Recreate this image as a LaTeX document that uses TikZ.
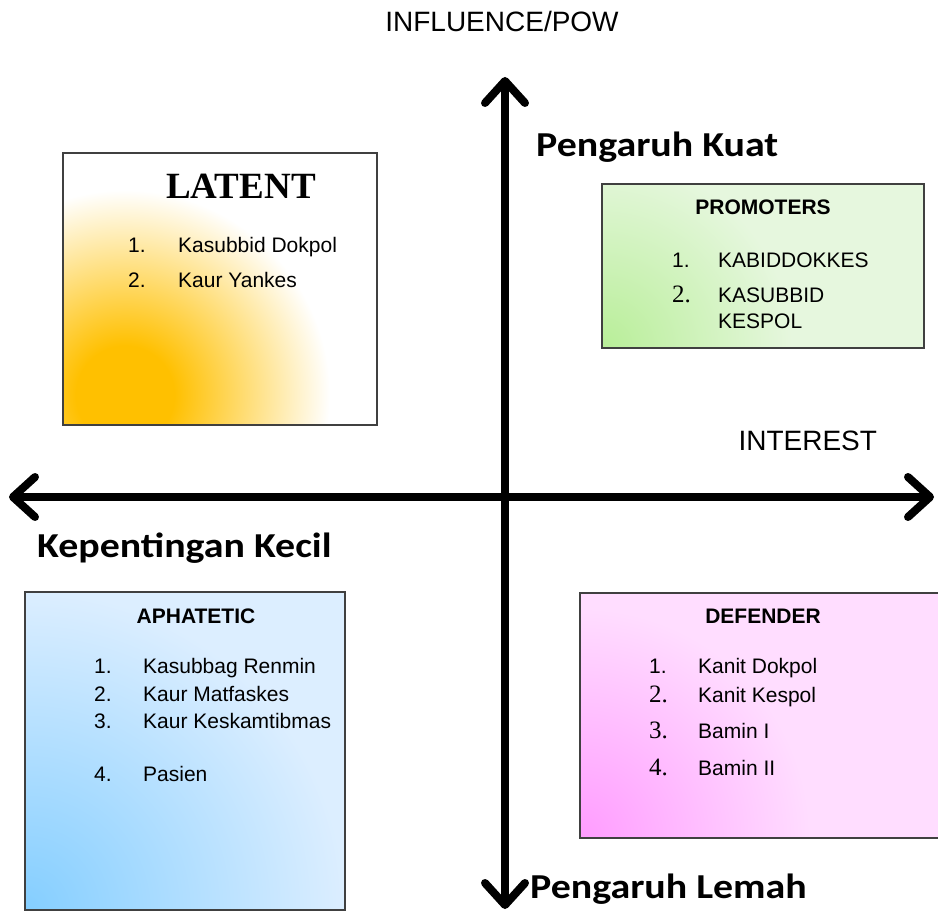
\documentclass[tikz,border=0pt]{standalone}
\usepackage{fontspec}
\setmainfont{Liberation Sans}
\newfontfamily\serifnum{Liberation Serif}
\newfontfamily\bigfont{Carlito}
\usetikzlibrary{arrows.meta}
\definecolor{yelglow}{HTML}{FFC000}
\definecolor{grbase}{HTML}{E6F7DE}
\definecolor{grglow}{HTML}{B8EE98}
\definecolor{blbase}{HTML}{DCEEFF}
\definecolor{blglow}{HTML}{84CEFF}
\definecolor{pkbase}{HTML}{FFDDFF}
\definecolor{pkglow}{HTML}{FF9CFF}
\definecolor{boxedge}{HTML}{404040}
\pgfdeclareradialshading{glowY}{\pgfpoint{0bp}{0bp}}{color(0bp)=(yelglow); color(6bp)=(yelglow); color(25bp)=(white); color(50bp)=(white)}
\pgfdeclareradialshading{glowG}{\pgfpoint{0bp}{0bp}}{color(0bp)=(grglow); color(25bp)=(grbase); color(50bp)=(grbase)}
\pgfdeclareradialshading{glowB}{\pgfpoint{0bp}{0bp}}{color(0bp)=(blglow); color(25bp)=(blbase); color(50bp)=(blbase)}
\pgfdeclareradialshading{glowP}{\pgfpoint{0bp}{0bp}}{color(0bp)=(pkglow); color(25bp)=(pkbase); color(50bp)=(pkbase)}
\tikzset{
  boxline/.style={draw=boxedge, line width=1.5pt},
  axis/.style={line width=8pt, line cap=round,
    {Straight Barb[length=22pt,width=40pt,line cap=round,line join=round]}-{Straight Barb[length=22pt,width=40pt,line cap=round,line join=round]}},
  axlabel/.style={font=\fontsize{28}{32}\selectfont, anchor=base},
  biglabel/.style={font=\bigfont\bfseries\fontsize{35}{40}\selectfont, anchor=base west, inner sep=0pt, xscale=1.14},
  boxtitle/.style={font=\bfseries\fontsize{21}{25}\selectfont, anchor=base, inner sep=0pt},
  itemnum/.style={font=\fontsize{21}{25}\selectfont, anchor=base west, inner sep=0pt},
  sernum/.style={font=\serifnum\fontsize{25}{29}\selectfont, anchor=base west, inner sep=0pt},
  itemtxt/.style={font=\fontsize{21}{25}\selectfont, anchor=base west, inner sep=0pt}
}
\begin{document}
\begin{tikzpicture}[x=1pt,y=-1pt]
\useasboundingbox (0,0) rectangle (938,917);
\fill[white] (0,0) rectangle (938,917);

% LATENT box
\begin{scope}
  \clip (63,153) rectangle (377,425);
  \fill[white] (63,153) rectangle (377,425);
  \shade[shading=glowY] (125,395) circle (205pt);
\end{scope}
\draw[boxline] (63,153) rectangle (377,425);

% PROMOTERS box
\begin{scope}
  \clip (602,184) rectangle (924,348);
  \fill[grbase] (602,184) rectangle (924,348);
  \shade[shading=glowG] (602,348) circle (190pt);
\end{scope}
\draw[boxline] (602,184) rectangle (924,348);

% APHATETIC box
\begin{scope}
  \clip (25,592) rectangle (345,910);
  \fill[blbase] (25,592) rectangle (345,910);
  \shade[shading=glowB] (25,910) circle (320pt);
\end{scope}
\draw[boxline] (25,592) rectangle (345,910);

% DEFENDER box
\begin{scope}
  \clip (580,593) rectangle (945,838);
  \fill[pkbase] (580,593) rectangle (945,838);
  \shade[shading=glowP] (580,838) circle (230pt);
\end{scope}
\draw[boxline] (580,593) rectangle (945,838);

% axes
\coordinate (top) at (505,77);
\coordinate (bot) at (505,909);
\coordinate (lft) at (9,497);
\coordinate (rgt) at (934,497);
\draw[axis] (bot) -- (top);
\draw[axis] (lft) -- (rgt);

% axis labels
\node[axlabel] (infl) at (502,32) {INFLUENCE/POW};
\node[axlabel, anchor=base west] (intr) at (735,451) {INTEREST};
\node[biglabel] (kuat) at (536,157) {Pengaruh Kuat};
\node[biglabel] (kecil) at (37,557) {Kepentingan Kecil};
\node[biglabel] (lemah) at (530,898) {Pengaruh Lemah};

% LATENT contents
\node[font=\serifnum\bfseries\fontsize{37}{42}\selectfont, anchor=base, inner sep=0pt] (latt) at (241,199) {LATENT};
\node[itemnum] (l1n) at (128,253) {1.};
\node[itemtxt] (l1t) at (178,253) {Kasubbid Dokpol};
\node[itemnum] (l2n) at (128,288) {2.};
\node[itemtxt] (l2t) at (178,288) {Kaur Yankes};

% PROMOTERS contents
\node[boxtitle] (prt) at (763,215) {PROMOTERS};
\node[itemnum] (p1n) at (672,268) {1.};
\node[itemtxt] (p1t) at (718,268) {KABIDDOKKES};
\node[sernum] (p2n) at (672,303) {2.};
\node[itemtxt] (p2t) at (718,303) {KASUBBID};
\node[itemtxt] (p2u) at (718,329) {KESPOL};

% APHATETIC contents
\node[boxtitle] (apt) at (196,623) {APHATETIC};
\node[itemnum] (a1n) at (94,673) {1.};
\node[itemtxt] (a1t) at (143,673) {Kasubbag Renmin};
\node[itemnum] (a2n) at (94,701) {2.};
\node[itemtxt] (a2t) at (143,701) {Kaur Matfaskes};
\node[itemnum] (a3n) at (94,728) {3.};
\node[itemtxt] (a3t) at (143,728) {Kaur Keskamtibmas};
\node[itemnum] (a4n) at (94,781) {4.};
\node[itemtxt] (a4t) at (143,781) {Pasien};

% DEFENDER contents
\node[boxtitle] (dft) at (763,623) {DEFENDER};
\node[itemnum] (d1n) at (649,673) {1.};
\node[itemtxt] (d1t) at (698,673) {Kanit Dokpol};
\node[sernum] (d2n) at (649,702) {2.};
\node[itemtxt] (d2t) at (698,702) {Kanit Kespol};
\node[sernum] (d3n) at (649,738) {3.};
\node[itemtxt] (d3t) at (698,738) {Bamin I};
\node[sernum] (d4n) at (649,775) {4.};
\node[itemtxt] (d4t) at (698,775) {Bamin II};
\end{tikzpicture}
\end{document}
